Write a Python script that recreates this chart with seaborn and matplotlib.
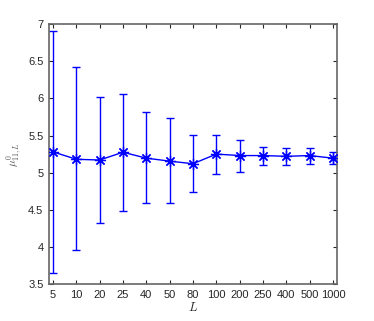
import matplotlib
matplotlib.use("Agg")
import matplotlib.pyplot as plt
import numpy as np
import pandas as pd
import seaborn as sns

# values
L_labels = ["5", "10", "20", "25", "40", "50", "80", "100", "200", "250", "400", "500", "1000"]
mu_mean = [5.28, 5.18, 5.17, 5.275, 5.195, 5.155, 5.12, 5.25, 5.23, 5.23, 5.22, 5.23, 5.195]
mu_upper = [6.91, 6.42, 6.02, 6.06, 5.81, 5.73, 5.51, 5.51, 5.44, 5.35, 5.335, 5.335, 5.28]
mu_lower = [3.65, 3.96, 4.32, 4.485, 4.59, 4.595, 4.735, 4.98, 5.01, 5.10, 5.10, 5.115, 5.12]

sns.set_style("ticks")
plt.rcParams["font.family"] = ["Liberation Sans", "DejaVu Sans"]
plt.rcParams["mathtext.fontset"] = "cm"

df = pd.DataFrame({
    "pos": np.arange(len(L_labels)),
    "mean": mu_mean,
    "lower": mu_lower,
    "upper": mu_upper,
})

fig = plt.figure(figsize=(3.74, 3.21), dpi=100)
ax = fig.add_axes([0.131, 0.115, 0.770, 0.810])

blue = (0, 0, 1)
yerr = np.vstack([df["mean"] - df["lower"], df["upper"] - df["mean"]])
ax.errorbar(df["pos"], df["mean"], yerr=yerr, fmt="none", ecolor=blue,
            elinewidth=1.0, capsize=3, capthick=1.0, zorder=2)
sns.lineplot(data=df, x="pos", y="mean", ax=ax, color=blue, linewidth=1.0,
             marker=(8, 2, 0), markersize=8, markeredgecolor=blue,
             markeredgewidth=0.9, zorder=3)

ax.set_xlim(-0.17, len(L_labels) - 1 + 0.17)
ax.set_ylim(3.5, 7)
ax.set_xticks(df["pos"])
ax.set_xticklabels(L_labels)
ax.set_yticks([3.5, 4, 4.5, 5, 5.5, 6, 6.5, 7])
ax.set_yticklabels(["3.5", "4", "4.5", "5", "5.5", "6", "6.5", "7"])

ax.set_xlabel(r"$L$", fontsize=9, color="0.15", labelpad=1)
ax.set_ylabel(r"$\mu^{0}_{11,L}$", fontsize=8, color="0.35", labelpad=4)

ax.tick_params(direction="in", top=True, right=True, length=3, width=0.8,
               labelsize=8, colors="0.15", pad=4)
for s in ax.spines.values():
    s.set_visible(True)
    s.set_color("0.4")
    s.set_linewidth(1.2)

fig.savefig("out.png", dpi=100)
